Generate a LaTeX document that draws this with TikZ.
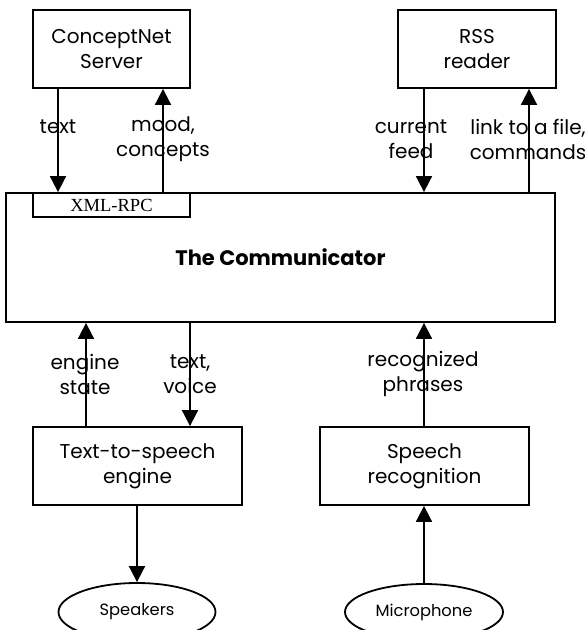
\documentclass[tikz,border=0pt]{standalone}
\usepackage{fontspec}
\setmainfont{Poppins}
\newfontfamily\seriffont{Liberation Serif}
\usetikzlibrary{arrows.meta,shapes.geometric}
\tikzset{
  box/.style={draw, line width=1.8pt, rectangle, inner sep=0pt, align=center,
    font=\fontsize{20}{25}\selectfont},
  oval/.style={draw, line width=1.8pt, ellipse, inner sep=0pt,
    font=\fontsize{16.3}{18}\selectfont},
  lbl/.style={align=center, inner sep=0pt, font=\fontsize{20}{25}\selectfont},
  arr/.style={line width=1.8pt, -{Triangle[width=16pt,length=16pt]}},
}
\begin{document}
\begin{tikzpicture}[x=1pt,y=-1pt]
  \useasboundingbox (0,0) rectangle (585,630);
  \clip (0,0) rectangle (585,630);

  % upper services
  \node[box, minimum width=157, minimum height=78] (cn) at (111.5,49) {ConceptNet\\Server};
  \node[box, minimum width=158, minimum height=78] (rss) at (477,49) {RSS\\reader};

  % central component and its XML-RPC port
  \node[box, minimum width=549, minimum height=129,
        font=\fontsize{21}{24}\selectfont\bfseries] (com) at (280.5,257.5) {The Communicator};
  \node[box, minimum width=157, minimum height=24,
        font=\seriffont\fontsize{18.5}{18}\selectfont] (xml) at (111.5,205) {XML-RPC};

  % lower components
  \node[box, minimum width=209, minimum height=78] (tts) at (137.5,466) {Text-to-speech\\engine};
  \node[box, minimum width=209, minimum height=78] (sr) at (424.5,466) {Speech\\recognition};

  % devices
  \node[oval, minimum width=157, minimum height=58] (spk) at (137,612) {Speakers};
  \node[oval, minimum width=158, minimum height=56] (mic) at (424,612) {Microphone};

  % x positions of the connectors
  \coordinate (x1) at (58,0);
  \coordinate (x2) at (163,0);
  \coordinate (x3) at (424,0);
  \coordinate (x4) at (529,0);
  \coordinate (x5) at (86,0);
  \coordinate (x6) at (190,0);
  \coordinate (x7) at (137,0);

  % connectors
  \draw[arr] (cn.south -| x1) -- (xml.north -| x1);
  \draw[arr] (xml.north -| x2) -- (cn.south -| x2);
  \draw[arr] (rss.south -| x3) -- (com.north -| x3);
  \draw[arr] (com.north -| x4) -- (rss.south -| x4);
  \draw[arr] (tts.north -| x5) -- (com.south -| x5);
  \draw[arr] (com.south -| x6) -- (tts.north -| x6);
  \draw[arr] (sr.north -| x3) -- (com.south -| x3);
  \draw[arr] (tts.south -| x7) -- (spk.north -| x7);
  \draw[arr] (mic.north -| x3) -- (sr.south -| x3);

  % connector labels
  \node[lbl] (l1) at (58,127) {text};
  \node[lbl] (l2) at (163,139.5) {mood,\\concepts};
  \node[lbl] (l3) at (411,139.5) {current\\feed};
  \node[lbl] (l4) at (528,139.5) {link to a file,\\commands};
  \node[lbl] (l5) at (85,374) {engine\\state};
  \node[lbl] (l6) at (190,374) {text,\\voice};
  \node[lbl] (l7) at (423,374) {recognized\\phrases};
\end{tikzpicture}
\end{document}
